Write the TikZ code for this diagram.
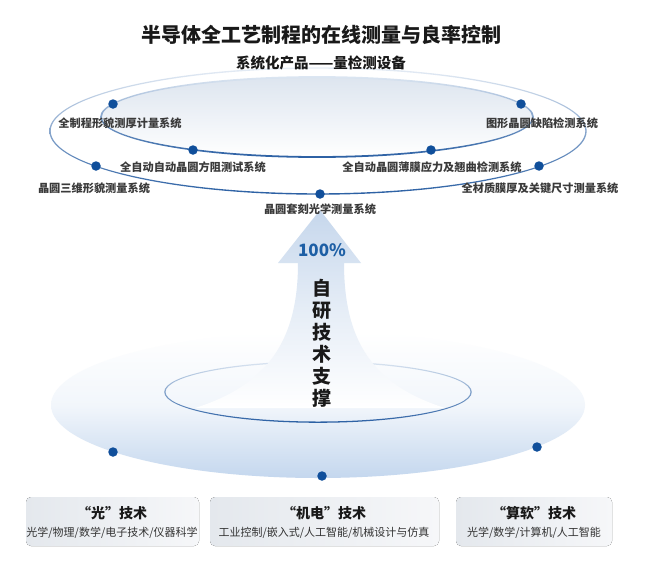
\documentclass[tikz,border=0pt]{standalone}
\usepackage{fontspec}
\setmainfont{Noto Sans CJK SC}
\definecolor{dotblue}{HTML}{104F9B}
\definecolor{ringtop}{HTML}{DCE6F2}
\definecolor{ringbot}{HTML}{2A5FA3}
\definecolor{discblue}{HTML}{C4D7EE}
\definecolor{arrowblue}{HTML}{C6D7EC}
\definecolor{innerfill}{HTML}{DDE5EF}
\definecolor{lblgray}{HTML}{3A3A3A}
\definecolor{pctblue}{HTML}{1D5FA5}
\definecolor{boxgrayL}{HTML}{E4E8ED}
\definecolor{boxgrayR}{HTML}{F6F7F9}
\begin{document}
\begin{tikzpicture}[x=1pt,y=-1pt,
  dot/.style={circle,fill=dotblue,inner sep=0pt,minimum size=9.5pt},
  lbl/.style={font=\fontsize{11.2}{13}\selectfont\bfseries,text=lblgray,inner sep=0pt},
  boxt/.style={font=\fontsize{14}{16}\selectfont\bfseries,text=black!90,inner sep=0pt},
  boxs/.style={font=\fontsize{11}{13}\selectfont,text=black!80,inner sep=0pt},
  techbox/.style={rounded corners=5pt,left color=boxgrayL,right color=boxgrayR}]
\useasboundingbox (0,0) rectangle (650,570);
\fill[white] (0,0) rectangle (650,570);

% bottom disc
\shade[top color=white,bottom color=discblue,middle color=white!78!discblue]
  (318,405) ellipse [x radius=267pt, y radius=73pt];
% small ring in disc
\shade[even odd rule,top color=ringtop,bottom color=ringbot]
  (318,392) ellipse [x radius=153.8pt, y radius=30.8pt]
  (318,392) ellipse [x radius=152.5pt, y radius=29.5pt];

% arrow
\shade[top color=arrowblue,bottom color=white,middle color=arrowblue!45!white]
  (320,210) -- (361,263) -- (344,263)
  .. controls (344,340) and (372,385) .. (445,408)
  -- (195,408)
  .. controls (268,385) and (298,340) .. (298,263)
  -- (278,263) -- cycle;

% inner ellipse fill
\shade[top color=innerfill,bottom color=white]
  (317,117) ellipse [x radius=216pt, y radius=40pt];
% outer ring
\shade[even odd rule,top color=ringtop!70!white,bottom color=ringbot]
  (318,131) ellipse [x radius=268.7pt, y radius=63.7pt]
  (318,131) ellipse [x radius=267.3pt, y radius=62.3pt];
% inner ring
\shade[even odd rule,top color=ringtop,bottom color=ringbot]
  (317,117) ellipse [x radius=216.9pt, y radius=40.9pt]
  (317,117) ellipse [x radius=215.1pt, y radius=39.1pt];

% titles
\node[font=\fontsize{20}{24}\selectfont\bfseries,text=black!90] (title) at (321,35) {半导体全工艺制程的在线测量与良率控制};
\node[font=\fontsize{14.5}{17}\selectfont\bfseries,text=black!90] (subtitle) at (321,63) {系统化产品——量检测设备};

% dots and labels
\node[dot] (d1) at (113,104) {};
\node[dot] (d2) at (521,104) {};
\node[dot] (d3) at (193,150) {};
\node[dot] (d4) at (431,150) {};
\node[dot] (d5) at (96,166) {};
\node[dot] (d6) at (539,166) {};
\node[dot] (d7) at (320,194) {};
\node[lbl] (l1) at (120,123) {全制程形貌测厚计量系统};
\node[lbl] (l2) at (542,123) {图形晶圆缺陷检测系统};
\node[lbl] (l3) at (193,167) {全自动自动晶圆方阻测试系统};
\node[lbl] (l4) at (432,167) {全自动晶圆薄膜应力及翘曲检测系统};
\node[lbl] (l5) at (94,188) {晶圆三维形貌测量系统};
\node[lbl] (l6) at (540,188) {全材质膜厚及关键尺寸测量系统};
\node[lbl] (l7) at (320,209) {晶圆套刻光学测量系统};

% arrow texts
\node[font=\fontsize{17}{20}\selectfont\bfseries,text=pctblue] (pct) at (322,250) {100\%};
\node[font=\fontsize{19}{22}\selectfont\bfseries,align=center,text=black!90] (vt) at (322,343) {自\\研\\技\\术\\支\\撑};

% bottom dots
\node[dot] (b1) at (113,452) {};
\node[dot] (b2) at (322,476) {};
\node[dot] (b3) at (537,447) {};

% technology boxes
\fill[techbox] (26,497) rectangle (199,546);
\fill[techbox] (210,497) rectangle (439,546);
\fill[techbox] (456,497) rectangle (612,546);
\node[boxt] (t1) at (112,513) {“光”技术};
\node[boxs] (s1) at (112,533) {光学/物理/数学/电子技术/仪器科学};
\node[boxt] (t2) at (324,513) {“机电”技术};
\node[boxs] (s2) at (324,533) {工业控制/嵌入式/人工智能/机械设计与仿真};
\node[boxt] (t3) at (534,513) {“算软”技术};
\node[boxs] (s3) at (534,533) {光学/数学/计算机/人工智能};
\end{tikzpicture}
\end{document}
